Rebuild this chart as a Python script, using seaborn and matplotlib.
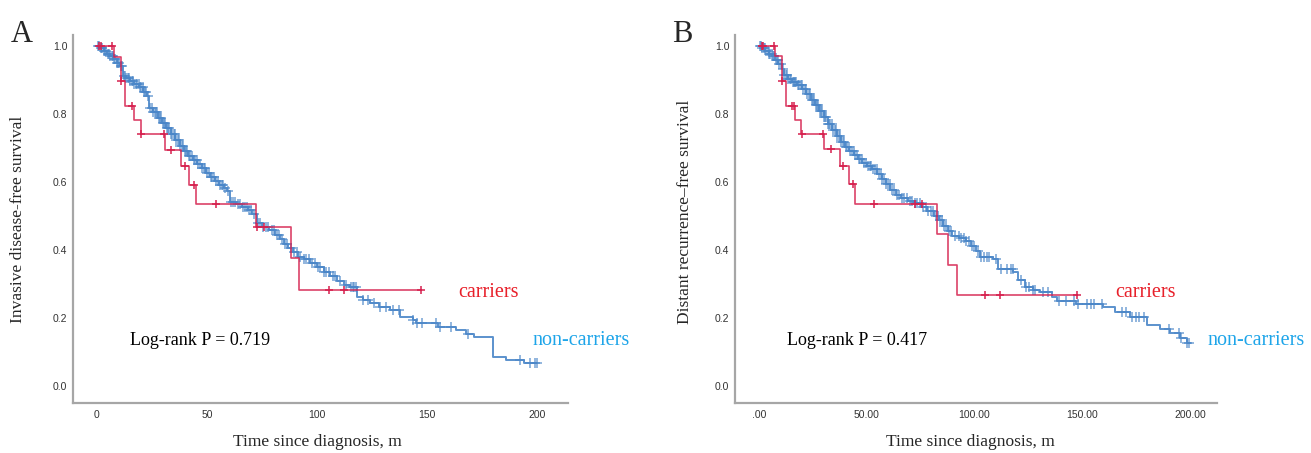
import numpy as np
import pandas as pd

import matplotlib
matplotlib.use('Agg')
import matplotlib.pyplot as plt
import seaborn as sns

sns.set_style('white')
plt.rcParams['font.family'] = ['Liberation Serif', 'DejaVu Serif']

# ---- panel A : invasive disease-free survival ----
a_car_t = [0, 7.8, 11.0, 12.9, 16.9, 20.0, 30.8, 38.1, 42.0, 45.1, 72.2, 88.0, 92.0, 147.4]
a_car_s = [1.0, 0.966, 0.898, 0.822, 0.781, 0.740, 0.695, 0.648, 0.592, 0.534, 0.467, 0.375, 0.281, 0.281]
a_car_cens = [1.0, 2.0, 7.0, 11.0, 16.1, 20.2, 30.4, 33.8, 40.1, 44.2, 54.1, 72.6, 75.9, 105.3, 112.2, 147.4]

a_non_t = [0, 1.5, 3, 4.5, 6, 7.5, 9, 10.5, 11.6, 13, 15, 17, 19, 21, 22.5, 23.8, 25.5, 27.5,
           29.5, 31.5, 33.5, 35.5, 37.5, 39.5, 41.5, 43.5, 45.5, 47.5, 49.5, 51.5, 53.5, 55.5,
           57.5, 59, 60.5, 63, 66, 68.5, 70.5, 72.5, 75, 78, 81, 83, 85, 87, 89, 91.5, 94, 97,
           100, 103, 106, 109, 112, 115, 118, 121, 124, 128, 133, 137.5, 143.5, 145, 155, 163,
           167.5, 171.5, 180, 186, 194, 200]
a_non_s = [1.0, 0.993, 0.985, 0.977, 0.969, 0.960, 0.951, 0.940, 0.912, 0.905, 0.897, 0.888,
           0.878, 0.865, 0.852, 0.818, 0.805, 0.789, 0.773, 0.758, 0.740, 0.722, 0.705, 0.690,
           0.677, 0.665, 0.652, 0.640, 0.627, 0.614, 0.602, 0.592, 0.582, 0.572, 0.542, 0.535,
           0.527, 0.518, 0.505, 0.478, 0.468, 0.460, 0.445, 0.432, 0.418, 0.405, 0.393, 0.378,
           0.372, 0.362, 0.350, 0.336, 0.322, 0.308, 0.298, 0.292, 0.262, 0.252, 0.244, 0.232,
           0.224, 0.204, 0.194, 0.184, 0.174, 0.165, 0.152, 0.143, 0.085, 0.077, 0.068, 0.068]
a_non_cens = [0.5, 1.1, 1.8, 2.4, 3.0, 3.7, 4.2, 4.9, 5.5, 6.1, 6.6, 7.3, 7.9, 8.4, 9.1, 9.7,
              10.2, 10.8, 11.3, 12.2, 12.8, 13.4, 14.1, 14.6, 15.2, 15.9, 16.5, 17.0, 17.7,
              18.3, 18.9, 19.4, 20.1, 20.7, 21.3, 21.8, 22.4, 23.0, 24.3, 24.9, 25.6, 26.2,
              26.8, 27.3, 28.0, 28.6, 29.1, 29.8, 30.4, 31.0, 31.6, 32.2, 32.9, 33.5, 34.1,
              34.8, 35.3, 36.0, 36.6, 37.2, 37.9, 38.5, 39.2, 39.8, 40.5, 41.1, 41.8, 42.4,
              43.1, 43.9, 44.6, 45.3, 46.1, 46.8, 47.6, 48.4, 49.1, 49.9, 50.8, 51.6, 52.3,
              53.2, 54.0, 54.9, 55.8, 56.6, 57.3, 58.1, 59.4, 60.9, 61.8, 62.7, 63.9, 65.0,
              66.2, 67.1, 68.3, 69.2, 70.1, 71.4, 73.0, 73.9, 75.2, 76.8, 77.9, 79.3, 80.2,
              81.6, 82.9, 84.1, 85.3, 86.4, 88.2, 89.6, 90.8, 92.4, 94.0, 95.1, 96.3, 97.8,
              98.9, 100.2, 101.5, 103.1, 104.0, 105.6, 107.2, 108.1, 110.4, 113.0, 115.2,
              116.1, 116.9, 117.6, 121.0, 123.2, 126.0, 128.8, 131.5, 134.5, 137.0, 143.6,
              145.5, 147.7, 154.0, 156.0, 161.0, 168.6, 192.0, 196.8, 199.0, 200.0]

# ---- panel B : distant recurrence-free survival ----
b_car_t = [0, 7.6, 10.7, 12.6, 16.8, 19.6, 30.4, 37.6, 41.6, 44.7, 82.8, 87.9, 91.8, 147.6]
b_car_s = [1.0, 0.969, 0.897, 0.823, 0.783, 0.741, 0.697, 0.647, 0.593, 0.535, 0.447, 0.357, 0.269, 0.269]
b_car_cens = [1.2, 2.0, 7.0, 10.7, 15.4, 16.2, 19.8, 29.5, 33.5, 38.8, 43.8, 53.5, 72.3, 75.6, 104.9, 112.0, 147.6]

b_non_t = [0, 1.5, 3, 4.5, 6, 7.5, 9, 10.7, 11.4, 13.5, 15.5, 17.5, 20, 22, 24, 26, 28, 30, 32,
           34, 36, 38, 40, 42, 44, 46, 48, 50, 52.5, 55, 57, 59, 61, 63.5, 66, 69, 72, 75, 78,
           81, 83.5, 85.5, 87.5, 89.5, 93, 96, 98.5, 100.5, 102.5, 108.5, 111, 118, 120.3,
           123.4, 127, 130.5, 135.8, 138.1, 147, 159.5, 165, 172, 180, 186, 190.7, 195.4, 198.5, 200]
b_non_s = [1.0, 0.994, 0.986, 0.977, 0.969, 0.959, 0.948, 0.933, 0.913, 0.903, 0.893, 0.884,
           0.872, 0.858, 0.842, 0.825, 0.808, 0.790, 0.771, 0.752, 0.734, 0.718, 0.703, 0.690,
           0.678, 0.667, 0.657, 0.648, 0.637, 0.622, 0.608, 0.593, 0.577, 0.563, 0.554, 0.545,
           0.537, 0.527, 0.515, 0.500, 0.487, 0.470, 0.455, 0.440, 0.435, 0.427, 0.413, 0.398,
           0.378, 0.372, 0.345, 0.336, 0.312, 0.292, 0.283, 0.276, 0.263, 0.249, 0.242, 0.232,
           0.219, 0.204, 0.180, 0.169, 0.155, 0.140, 0.125, 0.125]
b_non_cens = [0.4, 1.0, 1.6, 2.2, 2.9, 3.5, 4.1, 4.7, 5.3, 5.9, 6.5, 7.1, 7.7, 8.3, 8.9, 9.5,
              10.1, 11.0, 11.8, 12.4, 13.0, 13.7, 14.3, 14.9, 15.6, 16.2, 16.8, 17.4, 18.1,
              18.7, 19.3, 19.9, 20.6, 21.2, 21.8, 22.5, 23.1, 23.7, 24.4, 25.0, 25.6, 26.3,
              26.9, 27.5, 28.2, 28.8, 29.4, 30.1, 30.7, 31.3, 32.0, 32.6, 33.2, 33.9, 34.5,
              35.1, 35.8, 36.4, 37.0, 37.7, 38.3, 39.0, 39.6, 40.3, 41.0, 41.7, 42.4, 43.1,
              43.9, 44.6, 45.4, 46.2, 47.0, 47.8, 48.7, 49.5, 50.4, 51.3, 52.1, 53.0, 53.9,
              54.7, 55.6, 56.4, 57.3, 58.2, 59.1, 60.0, 60.9, 61.9, 62.8, 63.9, 65.1, 66.3,
              67.4, 68.6, 69.9, 71.0, 72.4, 73.5, 74.8, 76.1, 77.3, 78.6, 79.7, 80.9, 82.0,
              83.1, 84.2, 85.1, 86.0, 86.9, 88.1, 89.0, 90.8, 92.6, 93.9, 95.0, 96.2, 97.5,
              98.7, 99.8, 101.6, 103.0, 104.2, 105.6, 106.8, 109.8, 112.4, 114.9, 116.8,
              117.9, 121.5, 124.0, 125.5, 127.0, 128.2, 131.9, 134.0, 139.4, 142.5, 146.3,
              147.8, 152.4, 154.0, 155.5, 159.3, 168.6, 170.1, 173.2, 174.8, 176.3, 178.6,
              190.2, 194.8, 196.0, 198.6, 199.5]

x_ticks = [0, 50, 100, 150, 200]
y_ticks = [0.0, 0.2, 0.4, 0.6, 0.8, 1.0]

RED = '#d6204e'
BLUE = '#4a86c8'


def surv_at(times, surv, t):
    idx = np.searchsorted(np.asarray(times), np.asarray(t), side='right') - 1
    return np.asarray(surv)[np.clip(idx, 0, len(surv) - 1)]


def km_panel(ax, car_t, car_s, car_c, non_t, non_s, non_c):
    sns.lineplot(x=non_t, y=non_s, drawstyle='steps-post', estimator=None, sort=False,
                 color=BLUE, linewidth=1.4, alpha=0.9, ax=ax)
    sns.scatterplot(x=non_c, y=surv_at(non_t, non_s, non_c), marker='+', s=55,
                    color=BLUE, linewidth=1.3, alpha=0.65, ax=ax, zorder=3)
    sns.lineplot(x=car_t, y=car_s, drawstyle='steps-post', estimator=None, sort=False,
                 color=RED, linewidth=1.2, alpha=0.85, ax=ax, zorder=4)
    sns.scatterplot(x=car_c, y=surv_at(car_t, car_s, car_c), marker='+', s=38,
                    color=RED, linewidth=1.1, ax=ax, zorder=5)


fig = plt.figure(figsize=(13.11, 4.53), dpi=100)
axA = fig.add_axes([73 / 1311, 50 / 453, 495 / 1311, 368 / 453])
axB = fig.add_axes([735 / 1311, 50 / 453, 482 / 1311, 368 / 453])

km_panel(axA, a_car_t, a_car_s, a_car_cens, a_non_t, a_non_s, a_non_cens)
km_panel(axB, b_car_t, b_car_s, b_car_cens, b_non_t, b_non_s, b_non_cens)

axA.set_xlim(-10.9, 214)
axB.set_xlim(-11.1, 212.5)

for ax in (axA, axB):
    ax.set_ylim(-0.05, 1.032)
    ax.set_xticks(x_ticks)
    ax.set_yticks(y_ticks)
    ax.set_yticklabels([f'{v:.1f}' for v in y_ticks])
    sns.despine(ax=ax)
    for sp in ('left', 'bottom'):
        ax.spines[sp].set_color('#a6a6a6')
        ax.spines[sp].set_linewidth(1.6)
    ax.tick_params(axis='both', length=0, labelsize=7.5, labelcolor='#333333')
    ax.tick_params(axis='x', pad=5)
    ax.tick_params(axis='y', pad=4)
    for lab in ax.get_xticklabels() + ax.get_yticklabels():
        lab.set_family(['Liberation Sans Narrow', 'Liberation Sans', 'DejaVu Sans'])
    ax.set_xlabel('Time since diagnosis, m', fontsize=12.5)

axA.set_xticklabels([str(v) for v in x_ticks])
axB.set_xticklabels([f'{v:.2f}'.lstrip('0') if v == 0 else f'{v:.2f}' for v in x_ticks])

axA.set_ylabel('Invasive disease-free survival', fontsize=12.5)
axB.set_ylabel('Distant recurrence\u2013free survival', fontsize=12.5)
axA.yaxis.set_label_coords(-0.095, 0.5)
axB.yaxis.set_label_coords(-0.087, 0.52)
axA.xaxis.set_label_coords(0.493, -0.085)
axB.xaxis.set_label_coords(0.488, -0.085)

axA.text(15, 0.135, 'Log-rank P = 0.719', fontsize=13, va='center', color='black')
axA.text(164, 0.276, 'carriers', fontsize=14.5, va='center', color='#e8202a')
axA.text(198, 0.135, 'non-carriers', fontsize=14.5, va='center', color='#1ea5e9')

axB.text(13, 0.135, 'Log-rank P = 0.417', fontsize=13, va='center', color='black')
axB.text(165.5, 0.276, 'carriers', fontsize=14.5, va='center', color='#e8202a')
axB.text(208, 0.135, 'non-carriers', fontsize=14.5, va='center', color='#1ea5e9')

fig.text(11 / 1311, 1 - 42 / 453, 'A', fontsize=22, va='baseline')
fig.text(672 / 1311, 1 - 42 / 453, 'B', fontsize=22, va='baseline')

fig.savefig('out.png', dpi=100)
